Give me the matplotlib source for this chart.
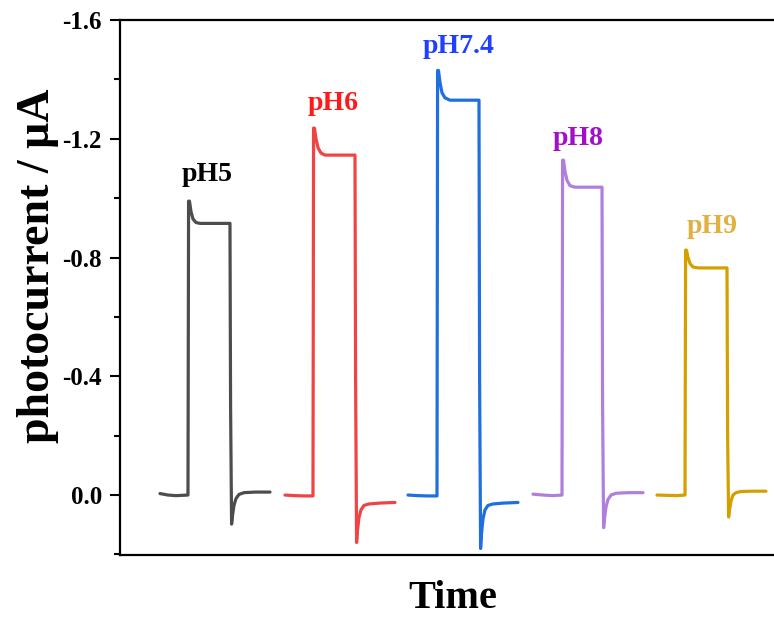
import numpy as np
import matplotlib.pyplot as plt
from matplotlib.ticker import MultipleLocator, NullLocator

plt.rcParams['font.family'] = ['Liberation Serif', 'DejaVu Serif']
plt.rcParams['font.weight'] = 'bold'

# traces: time (arb. units) and photocurrent (uA)
t_ph5 = [40, 48, 56, 68, 68.6, 69.5, 71, 73, 76, 80, 110, 110.6, 111.6, 112.5, 114, 116, 119, 124, 135, 150]
i_ph5 = [-0.005, 0.0, 0.002, 0.0, -0.99, -0.99, -0.955, -0.93, -0.918, -0.915, -0.915, -0.3, 0.098, 0.07, 0.035, 0.012, -0.002, -0.008, -0.01, -0.01]

t_ph6 = [165, 175, 185, 193, 193.6, 194.5, 196, 198, 201, 205, 235, 235.6, 236.6, 237.5, 239, 241, 244, 249, 260, 275]
i_ph6 = [0.0, 0.002, 0.003, 0.003, -1.236, -1.236, -1.2, -1.17, -1.152, -1.145, -1.145, -0.4, 0.16, 0.12, 0.075, 0.05, 0.035, 0.03, 0.027, 0.025]

t_ph74 = [288, 298, 308, 317, 317.6, 318.5, 320, 322, 325, 330, 359, 359.6, 360.6, 361.5, 363, 365, 368, 373, 384, 398]
i_ph74 = [0.0, 0.002, 0.003, 0.003, -1.43, -1.43, -1.39, -1.355, -1.338, -1.33, -1.33, -0.4, 0.18, 0.13, 0.08, 0.05, 0.035, 0.03, 0.027, 0.025]

t_ph8 = [413, 423, 433, 442, 442.6, 443.5, 445, 447, 450, 455, 482, 482.6, 483.6, 484.5, 486, 488, 491, 496, 508, 523]
i_ph8 = [-0.003, 0.0, 0.002, 0.0, -1.128, -1.128, -1.09, -1.06, -1.042, -1.037, -1.037, -0.3, 0.11, 0.08, 0.04, 0.015, 0.0, -0.006, -0.008, -0.008]

t_ph9 = [537, 547, 557, 565, 565.6, 566.5, 568, 570, 573, 578, 607, 607.6, 608.6, 609.5, 611, 613, 616, 621, 633, 646]
i_ph9 = [0.0, 0.001, 0.002, 0.0, -0.825, -0.825, -0.8, -0.78, -0.768, -0.765, -0.765, -0.2, 0.074, 0.05, 0.02, 0.0, -0.008, -0.012, -0.013, -0.013]

labels = ['pH5', 'pH6', 'pH7.4', 'pH8', 'pH9']
line_colors = ['#4d4d4d', '#f04444', '#1f6fe0', '#b07fdc', '#d4a000']
text_colors = ['#000000', '#ff1a1a', '#2040ff', '#a010c8', '#e0b040']
label_x = [87, 213, 339, 458, 592]
label_y = [-1.08, -1.32, -1.51, -1.2, -0.905]

traces = [(t_ph5, i_ph5), (t_ph6, i_ph6), (t_ph74, i_ph74), (t_ph8, i_ph8), (t_ph9, i_ph9)]

fig = plt.figure(figsize=(7.74, 6.26), dpi=100)
ax = fig.add_axes([0.155, 0.1134, 0.86, 0.8546])

for (t, i), c in zip(traces, line_colors):
    ax.plot(t, i, color=c, lw=2.3, solid_joinstyle='round', solid_capstyle='round')

for lab, x, y, c in zip(labels, label_x, label_y, text_colors):
    ax.text(x, y, lab, color=c, fontsize=20, fontweight='bold', ha='center', va='center')

ax.set_xlim(0, 665.6)
ax.set_ylim(0.202, -1.6)
ax.yaxis.set_major_locator(MultipleLocator(0.4))
ax.yaxis.set_minor_locator(MultipleLocator(0.2))
ax.yaxis.set_major_formatter(plt.FuncFormatter(lambda v, p: '%.1f' % v))
ax.xaxis.set_major_locator(NullLocator())

for s in ['left', 'top', 'bottom']:
    ax.spines[s].set_linewidth(1.6)
ax.spines['right'].set_visible(False)
ax.tick_params(axis='y', which='major', direction='out', length=7, width=1.5, labelsize=18, pad=6)
ax.tick_params(axis='y', which='minor', direction='out', length=4, width=1.5)
for lab in ax.get_yticklabels():
    lab.set_fontweight('bold')

ax.set_ylabel('photocurrent / μA', fontsize=33, fontweight='bold')
ax.yaxis.set_label_coords(-0.092, 0.54)
ax.set_xlabel('Time', fontsize=29, fontweight='bold', labelpad=18)

fig.savefig('out.png', dpi=100)
